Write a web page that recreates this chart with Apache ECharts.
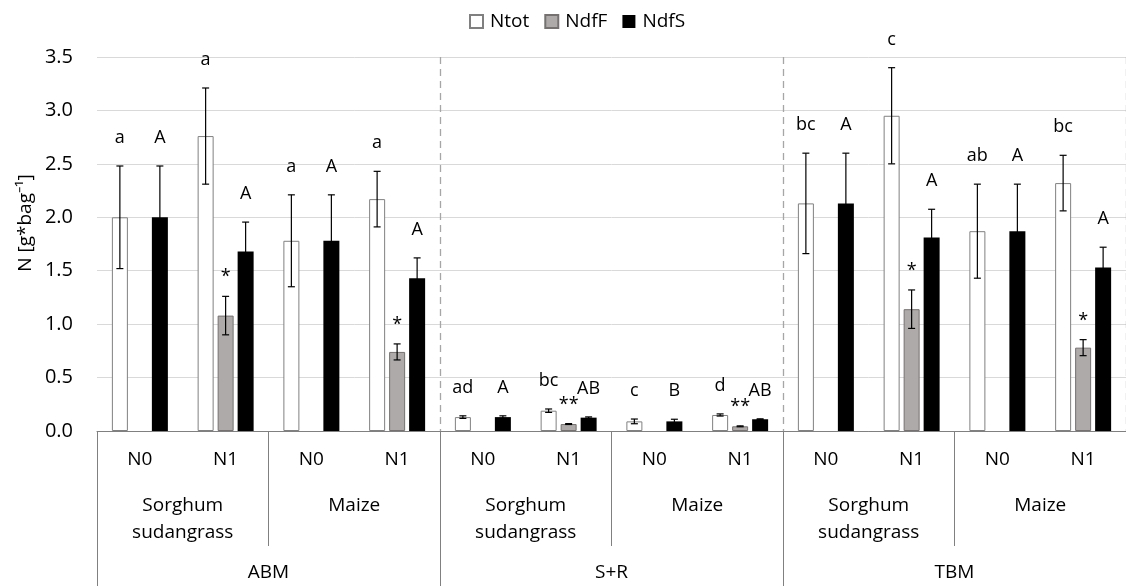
<!DOCTYPE html>
<html><head><meta charset="utf-8">
<script src="https://cdn.jsdelivr.net/npm/echarts@6/dist/echarts.min.js"></script>
<style>html,body{margin:0;padding:0;background:#fff}#c{width:1126px;height:586px}</style>
</head><body><div id="c"></div>
<script>
// ---- data ----
const nLevels = ['N0','N1','N0','N1','N0','N1','N0','N1','N0','N1','N0','N1'];
const crops = ['Sorghum\nsudangrass','Maize','Sorghum\nsudangrass','Maize','Sorghum\nsudangrass','Maize'];
const systems = ['ABM','S+R','TBM'];
const seriesNames = ['Ntot','NdfF','NdfS'];
const yTitle = 'N [g*bag\u207B\u00B9]';

const ntot    = [2.00, 2.76, 1.78, 2.17, 0.13, 0.19, 0.09, 0.15, 2.13, 2.95, 1.87, 2.32];
const ntotErr = [0.48, 0.45, 0.43, 0.26, 0.012, 0.016, 0.022, 0.01, 0.47, 0.45, 0.44, 0.26];
const ndff    = [null, 1.08, null, 0.74, null, 0.065, null, 0.044, null, 1.14, null, 0.78];
const ndffErr = [null, 0.18, null, 0.075, null, 0.004, null, 0.004, null, 0.18, null, 0.075];
const ndfs    = [2.00, 1.68, 1.78, 1.43, 0.13, 0.125, 0.09, 0.11, 2.13, 1.81, 1.87, 1.53];
const ndfsErr = [0.48, 0.275, 0.43, 0.19, 0.012, 0.007, 0.02, 0.004, 0.47, 0.265, 0.44, 0.19];

const ntotLetters = ['a','a','a','a','ad','bc','c','d','bc','c','ab','bc'];
const ndffMarks   = ['','*','','*','','**','','**','','*','','*'];
const ndfsLetters = ['A','A','A','A','A','AB','B','AB','A','A','A','A'];

// ---- chart ----
const FONT = '"Open Sans"';
const BW = 16, GAP = 0.25;
const chart = echarts.init(document.getElementById('c'));

function errSeries(vals, errs, labels, k, gap, fs) {
  return {
    type: 'custom', xAxisIndex: 0, yAxisIndex: 0, z: 10, silent: true,
    encode: { x: 0, y: 1 },
    data: vals.map((v, i) => [i, v == null ? '-' : v, errs[i] == null ? 0 : errs[i]]),
    renderItem(params, api) {
      const i = api.value(0), v = api.value(1), e = api.value(2);
      if (v == null || isNaN(v)) return { type: 'group', children: [] };
      const off = (k - 1) * BW * (1 + GAP);
      const cx = api.coord([i, 0])[0] + off;
      const yT = api.coord([i, v + e])[1];
      const yB = api.coord([i, Math.max(v - e, 0)])[1];
      const c = 3.5;
      const st = { stroke: '#000', lineWidth: 1.2 };
      const children = [
        { type: 'line', shape: { x1: cx, y1: yT, x2: cx, y2: yB }, style: st },
        { type: 'line', shape: { x1: cx - c, y1: yT, x2: cx + c, y2: yT }, style: st },
        { type: 'line', shape: { x1: cx - c, y1: yB, x2: cx + c, y2: yB }, style: st }
      ];
      const t = labels[params.dataIndex];
      if (t) children.push({ type: 'text', style: { text: t, x: cx, y: yT - gap, align: 'center', verticalAlign: 'middle', fontSize: fs, fontFamily: FONT, fill: '#000' } });
      return { type: 'group', children };
    }
  };
}

const axisLabelStyle = { color: '#000', fontSize: 19, fontFamily: FONT };
const boxLine = { color: '#808080', width: 1 };

chart.setOption({
  animation: false,
  backgroundColor: '#fff',
  textStyle: { fontFamily: FONT },
  legend: {
    top: 7, left: 464,
    data: seriesNames,
    icon: 'rect', itemWidth: 13, itemHeight: 13, itemGap: 15,
    textStyle: { color: '#000', fontSize: 19, fontFamily: FONT, padding: [0, 0, 0, 2] }
  },
  graphic: [{
    type: 'text', x: 26, y: 223, rotation: Math.PI / 2,
    style: { text: yTitle, align: 'center', verticalAlign: 'middle', fontSize: 19, fontFamily: FONT, fill: '#000' }
  }],
  grid: { left: 97, right: -9, top: 57, bottom: 155, containLabel: false },
  yAxis: {
    type: 'value', min: 0, max: 3.5, interval: 0.5,
    axisLine: { show: false }, axisTick: { show: false },
    axisLabel: { margin: 24, formatter: v => v.toFixed(1), color: '#000', fontSize: 20, fontFamily: FONT },
    splitLine: { lineStyle: { color: '#d9d9d9', width: 1 } }
  },
  xAxis: [
    {
      type: 'category', data: nLevels, position: 'bottom',
      axisLine: { show: true, lineStyle: boxLine },
      axisTick: { show: false },
      axisLabel: Object.assign({ interval: 0, margin: 19 }, axisLabelStyle),
      splitLine: { show: false }
    },
    {
      type: 'category', data: crops, position: 'bottom',
      axisLine: { show: false },
      axisTick: { show: true, length: 115, interval: 0, lineStyle: boxLine },
      axisLabel: Object.assign({ interval: 0, margin: 61, lineHeight: 27 }, axisLabelStyle),
      splitLine: { show: false }
    },
    {
      type: 'category', data: systems, position: 'bottom',
      axisLine: { show: false },
      axisTick: { show: true, length: 160, interval: 0, lineStyle: boxLine },
      axisLabel: Object.assign({ interval: 0, margin: 132 }, axisLabelStyle),
      splitLine: { show: true, interval: (idx) => idx !== 0, lineStyle: { color: '#a6a6a6', type: [7, 5], width: 1.3 } }
    }
  ],
  series: [
    { name: 'Ntot', type: 'bar', data: ntot, barWidth: BW, barGap: (GAP * 100) + '%',
      itemStyle: { color: '#ffffff', borderColor: '#808080', borderWidth: 1 } },
    { name: 'NdfF', type: 'bar', data: ndff, barWidth: BW, barGap: (GAP * 100) + '%',
      itemStyle: { color: '#aeaaaa', borderColor: '#767171', borderWidth: 1 } },
    { name: 'NdfS', type: 'bar', data: ndfs, barWidth: BW, barGap: (GAP * 100) + '%',
      itemStyle: { color: '#000000' } },
    errSeries(ntot, ntotErr, ntotLetters, 0, 28, 18),
    errSeries(ndff, ndffErr, ndffMarks, 1, 19, 18),
    errSeries(ndfs, ndfsErr, ndfsLetters, 2, 28, 18)
  ]
});
</script>
</body></html>
